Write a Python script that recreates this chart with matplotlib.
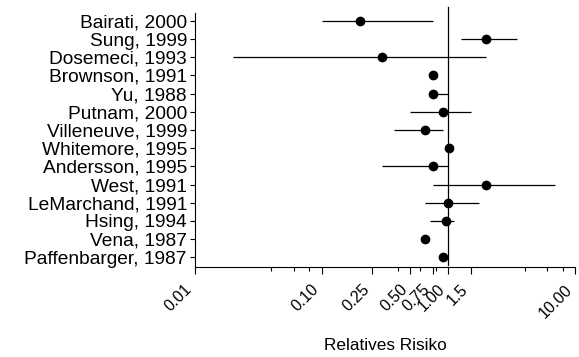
import matplotlib.pyplot as plt
from matplotlib.ticker import FixedLocator, FixedFormatter, NullFormatter

plt.rcParams['font.family'] = ['Liberation Sans', 'DejaVu Sans']

# Studien von oben nach unten
studies = ['Bairati, 2000', 'Sung, 1999', 'Dosemeci, 1993', 'Brownson, 1991',
           'Yu, 1988', 'Putnam, 2000', 'Villeneuve, 1999', 'Whitemore, 1995',
           'Andersson, 1995', 'West, 1991', 'LeMarchand, 1991', 'Hsing, 1994',
           'Vena, 1987', 'Paffenbarger, 1987']
rr = [0.20, 2.0, 0.30, 0.75, 0.75, 0.90, 0.66, 1.01, 0.75, 2.0, 1.0, 0.96, 0.66, 0.90]
ci_low = [0.10, 1.27, 0.02, 0.72, 0.72, 0.50, 0.37, 0.98, 0.30, 0.75, 0.66, 0.72, 0.64, 0.88]
ci_high = [0.75, 3.5, 2.0, 0.78, 1.0, 1.5, 0.90, 1.04, 1.0, 7.0, 1.76, 1.11, 0.68, 0.92]

major_ticks = [0.01, 0.10, 0.25, 0.50, 0.75, 1.00, 1.5, 10.0]
major_labels = ['0.01', '0.10', '0.25', '0.50', '0.75', '1.00', '1.5', '10.00']
minor_ticks = [0.04, 0.06, 0.08, 0.4, 0.6, 0.8, 4, 6, 8]

fig = plt.figure(figsize=(5.79, 3.57), dpi=100)
ax = fig.add_axes([195 / 579, 1 - 267 / 357, 380 / 579, (267 - 13.3) / 357])

n = len(studies)
ypos = list(range(n, 0, -1))

ax.hlines(ypos, ci_low, ci_high, color='black', linewidth=0.9)
ax.plot(rr, ypos, 'o', color='black', markersize=6)

ax.set_xscale('log')
ax.set_xlim(0.01, 10)
ax.set_ylim(0.47, n + 0.42)

# Referenzlinie bei 1
ax.plot([1, 1], [0.58, n + 0.79], color='black', linewidth=0.9, clip_on=False)

ax.xaxis.set_major_locator(FixedLocator(major_ticks))
ax.xaxis.set_major_formatter(FixedFormatter(major_labels))
ax.xaxis.set_minor_locator(FixedLocator(minor_ticks))
ax.xaxis.set_minor_formatter(NullFormatter())

ax.set_yticks(ypos)
ax.set_yticklabels(studies)

ax.tick_params(axis='x', which='major', direction='out', length=4.8, width=0.8,
               labelsize=11.5, pad=6)
ax.tick_params(axis='x', which='minor', direction='out', length=2.6, width=0.8)
ax.tick_params(axis='y', direction='out', length=3.8, width=0.8, labelsize=13.8, pad=2)

plt.setp(ax.get_xticklabels(), rotation=45, ha='right')

ax.spines['top'].set_visible(False)
ax.spines['right'].set_visible(False)
ax.spines['left'].set_linewidth(0.8)
ax.spines['bottom'].set_linewidth(0.8)

ax.set_xlabel('Relatives Risiko', fontsize=12.4, labelpad=12)

fig.savefig('out.png', dpi=100)
